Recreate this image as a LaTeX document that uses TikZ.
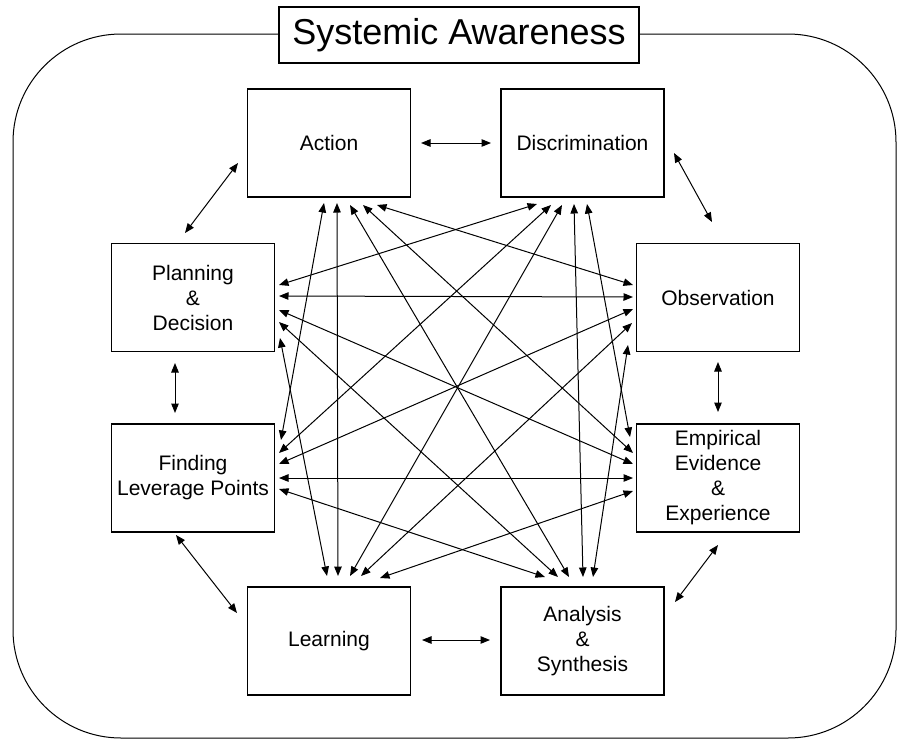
\documentclass[tikz,border=0pt]{standalone}
\usepackage{fontspec}
\setmainfont{Liberation Sans}
\usetikzlibrary{arrows.meta}

\tikzset{
  box/.style={draw, line width=1.1pt, minimum width=163pt, minimum height=108pt,
    inner sep=0pt, align=center, font=\fontsize{21}{25}\selectfont},
  link/.style={<->, >={Triangle[length=9.5pt,width=7.5pt]}, line width=1pt}
}

\begin{document}
\begin{tikzpicture}[x=1pt, y=-1pt]
            \useasboundingbox (0,0) rectangle (898,740);
            %Frame
            \draw[line width=1pt, rounded corners=108pt] (13,34) rectangle (896,738);
            \node[draw, fill=white, line width=1.1pt, minimum width=360pt, minimum height=56pt,
                  font=\fontsize{36}{40}\selectfont] (title) at (459,35) {Systemic Awareness};

            %Nodes
            \node[box] at (329,143)   (act) {Action};
            \node[box] at (582.5,143) (dis) {Discrimination};
            \node[box] at (193,297.5) (pla) {Planning\\\&\\Decision};
            \node[box] at (718,297.5) (obs) {Observation};
            \node[box] at (193,478)   (fin) {Finding\\Leverage Points};
            \node[box] at (718,478)   (emp) {Empirical\\Evidence\\\&\\Experience};
            \node[box] at (329,641)   (lea) {Learning};
            \node[box] at (582.5,641) (ana) {Analysis\\\&\\Synthesis};

            %Ports round the ring
            \coordinate (act-r) at (421,143);
            \coordinate (dis-l) at (491,143);
            \coordinate (dis-r) at (674,153);
            \coordinate (obs-t) at (712,222);
            \coordinate (obs-b) at (718,362);
            \coordinate (emp-t) at (718,412);
            \coordinate (emp-b) at (718,545);
            \coordinate (ana-r) at (675,602);
            \coordinate (ana-l) at (490,640);
            \coordinate (lea-r) at (422,640);
            \coordinate (lea-l) at (237,613);
            \coordinate (fin-b) at (176,535);
            \coordinate (fin-t) at (175,413);
            \coordinate (pla-b) at (175,363);
            \coordinate (pla-t) at (185,233);
            \coordinate (act-l) at (238,163);

            %Ports inside
            \coordinate (act-fin) at (324,203);
            \coordinate (act-lea) at (337,203);
            \coordinate (act-ana) at (350,205);
            \coordinate (act-emp) at (363,205);
            \coordinate (act-obs) at (377,205);
            \coordinate (dis-pla) at (537,204);
            \coordinate (dis-fin) at (551,205);
            \coordinate (dis-lea) at (562,205);
            \coordinate (dis-ana) at (574,204);
            \coordinate (dis-emp) at (587,204);
            \coordinate (pla-dis) at (279,285);
            \coordinate (pla-obs) at (279,296);
            \coordinate (pla-emp) at (279,310);
            \coordinate (pla-ana) at (279,322);
            \coordinate (pla-lea) at (280,338);
            \coordinate (obs-act) at (633,285);
            \coordinate (obs-pla) at (633,297);
            \coordinate (obs-fin) at (633,309);
            \coordinate (obs-lea) at (632,323);
            \coordinate (obs-ana) at (628,345);
            \coordinate (fin-act) at (281,440);
            \coordinate (fin-dis) at (279,453);
            \coordinate (fin-obs) at (279,464);
            \coordinate (fin-emp) at (279,478);
            \coordinate (fin-ana) at (279,489);
            \coordinate (emp-dis) at (630,437);
            \coordinate (emp-act) at (633,453);
            \coordinate (emp-pla) at (633,464);
            \coordinate (emp-fin) at (633,478);
            \coordinate (emp-lea) at (633,491);
            \coordinate (lea-pla) at (327,576);
            \coordinate (lea-act) at (338,576);
            \coordinate (lea-dis) at (350,576);
            \coordinate (lea-obs) at (361,576);
            \coordinate (lea-emp) at (380,578);
            \coordinate (ana-fin) at (545,577);
            \coordinate (ana-pla) at (558,577);
            \coordinate (ana-act) at (569,577);
            \coordinate (ana-dis) at (583,577);
            \coordinate (ana-obs) at (593,577);

            %Lines round the ring
            \draw[link] (act-r) -- (dis-l);
            \draw[link] (dis-r) -- (obs-t);
            \draw[link] (obs-b) -- (emp-t);
            \draw[link] (emp-b) -- (ana-r);
            \draw[link] (ana-l) -- (lea-r);
            \draw[link] (lea-l) -- (fin-b);
            \draw[link] (fin-t) -- (pla-b);
            \draw[link] (pla-t) -- (act-l);

            %Lines inside
            \draw[link] (act-fin) -- (fin-act);
            \draw[link] (act-lea) -- (lea-act);
            \draw[link] (act-ana) -- (ana-act);
            \draw[link] (act-emp) -- (emp-act);
            \draw[link] (act-obs) -- (obs-act);
            \draw[link] (dis-pla) -- (pla-dis);
            \draw[link] (dis-fin) -- (fin-dis);
            \draw[link] (dis-lea) -- (lea-dis);
            \draw[link] (dis-ana) -- (ana-dis);
            \draw[link] (dis-emp) -- (emp-dis);
            \draw[link] (pla-obs) -- (obs-pla);
            \draw[link] (pla-emp) -- (emp-pla);
            \draw[link] (pla-ana) -- (ana-pla);
            \draw[link] (pla-lea) -- (lea-pla);
            \draw[link] (obs-fin) -- (fin-obs);
            \draw[link] (obs-lea) -- (lea-obs);
            \draw[link] (obs-ana) -- (ana-obs);
            \draw[link] (fin-emp) -- (emp-fin);
            \draw[link] (fin-ana) -- (ana-fin);
            \draw[link] (emp-lea) -- (lea-emp);
        \end{tikzpicture}
\end{document}
